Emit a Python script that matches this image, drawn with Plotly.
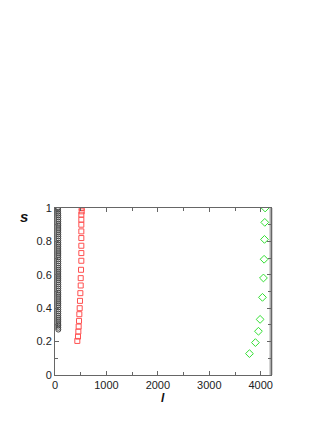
import plotly.graph_objects as go

# black circles (series 1)
black_l = [58, 60, 61, 62, 63, 64, 64, 64, 64, 64, 64, 64, 64, 64, 64, 64, 64, 64, 64, 64,
           64, 64, 64, 64, 64, 64, 64, 64, 64, 64, 64, 64, 64, 64, 64, 64, 64, 64, 64, 64,
           64, 64, 64, 64, 64, 64, 64, 64, 64, 64, 64, 64, 64, 64, 64, 64, 64, 64, 64, 64]
black_s = [1.0, 0.99, 0.978, 0.966, 0.955, 0.943, 0.93, 0.918, 0.905, 0.893,
           0.88, 0.868, 0.855, 0.842, 0.83, 0.818, 0.805, 0.792, 0.78, 0.768,
           0.755, 0.742, 0.73, 0.718, 0.705, 0.692, 0.68, 0.668, 0.655, 0.642,
           0.63, 0.618, 0.605, 0.592, 0.58, 0.568, 0.555, 0.542, 0.53, 0.518,
           0.505, 0.492, 0.48, 0.468, 0.455, 0.442, 0.43, 0.418, 0.405, 0.392,
           0.38, 0.368, 0.355, 0.342, 0.33, 0.318, 0.305, 0.295, 0.283, 0.272]

# red squares (series 2)
red_l = [519, 519, 512, 512, 512, 512, 512, 512, 512, 512,
         506, 500, 500, 493, 486, 480, 473, 467, 460, 454, 447, 434]
red_s = [1.0, 0.98, 0.96, 0.93, 0.90, 0.86, 0.82, 0.774, 0.73, 0.684,
         0.63, 0.58, 0.536, 0.49, 0.444, 0.40, 0.364, 0.324, 0.29, 0.26, 0.23, 0.204]

# green diamonds (series 3)
green_l = [4086, 4079, 4073, 4066, 4053, 4034, 3988, 3956, 3897, 3781]
green_s = [1.0, 0.914, 0.812, 0.693, 0.581, 0.465, 0.333, 0.262, 0.194, 0.128]

x_ticks = [0, 1000, 2000, 3000, 4000]
y_ticks = [0, 0.2, 0.4, 0.6, 0.8, 1]
y_labels = ["0", "0.2", "0.4", "0.6", "0.8", "1"]

fig = go.Figure()
fig.add_trace(go.Scatter(x=black_l, y=black_s, mode="markers",
                         marker=dict(symbol="circle-open", size=5, color="#444444",
                                     line=dict(width=1))))
fig.add_trace(go.Scatter(x=red_l, y=red_s, mode="markers",
                         marker=dict(symbol="square-open", size=5, color="#ff5050",
                                     line=dict(width=1))))
fig.add_trace(go.Scatter(x=green_l, y=green_s, mode="markers",
                         marker=dict(symbol="diamond-open", size=6, color="#33e033",
                                     line=dict(width=1))))

fig.update_layout(
    width=327, height=423,
    margin=dict(l=47, r=64, t=200, b=56),
    paper_bgcolor="white", plot_bgcolor="white",
    showlegend=False,
    font=dict(family="Liberation Sans, Arial, sans-serif", size=11, color="#222222"),
    xaxis=dict(range=[0, 4200], tickvals=x_ticks, showgrid=False, zeroline=False,
               showline=True, linecolor="#666666", linewidth=1, mirror="ticks",
               ticks="inside", ticklen=4, tickcolor="#666666",
               minor=dict(dtick=500, tick0=0, ticks="inside", ticklen=3, tickcolor="#666666")),
    yaxis=dict(range=[0, 1], tickvals=y_ticks, ticktext=y_labels, showgrid=False,
               zeroline=False, showline=True, linecolor="#666666", linewidth=1,
               mirror="ticks", ticks="inside", ticklen=4, tickcolor="#666666",
               minor=dict(dtick=0.1, tick0=0, ticks="inside", ticklen=3, tickcolor="#666666")),
    shapes=[dict(type="line", xref="paper", yref="paper", x0=1, x1=1, y0=0, y1=1,
                 layer="below", line=dict(color="#aaaaaa", width=3))],
    annotations=[
        dict(text="<b><i>s</i></b>", xref="paper", yref="paper", x=-0.144, y=0.952,
             xanchor="center", yanchor="middle", showarrow=False,
             font=dict(size=15, color="#111111")),
        dict(text="<b><i>l</i></b>", xref="paper", yref="paper", x=0.5, y=-0.135,
             xanchor="center", yanchor="middle", showarrow=False,
             font=dict(size=12, color="#111111")),
    ],
)

fig.write_html("out.html")
